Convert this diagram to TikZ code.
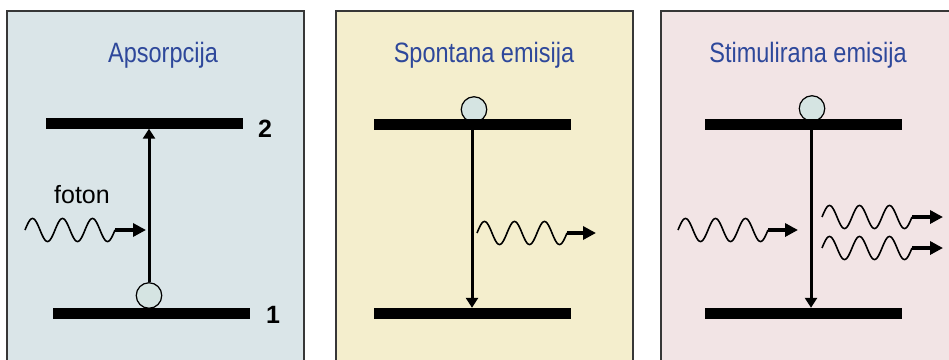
\documentclass[tikz,border=0pt]{standalone}
\usepackage{fontspec}
\setmainfont{Liberation Sans}
\usetikzlibrary{arrows.meta}
\definecolor{panelA}{RGB}{218,229,232}
\definecolor{panelB}{RGB}{244,238,205}
\definecolor{panelC}{RGB}{242,228,229}
\definecolor{titleblue}{RGB}{46,72,155}
\definecolor{atomfill}{RGB}{213,228,226}
\definecolor{framegray}{RGB}{55,55,55}
\begin{document}
\begin{tikzpicture}[x=1pt,y=-1pt,
  panel/.style={draw=framegray, line width=2pt},
  title/.style={font=\fontsize{28}{32}\selectfont, text=titleblue, xscale=0.84, anchor=base, inner sep=0pt},
  level/.style={fill=black, inner sep=0pt, minimum height=11pt, minimum width=197pt},
  atom/.style={circle, draw=black, line width=1.2pt, fill=atomfill, minimum size=25.5pt, inner sep=0pt},
  transition/.style={line width=3pt, -{Triangle[length=10pt,width=12pt]}},
  wave/.style={line width=1.6pt},
  photonhead/.style={line width=3.5pt, -{Triangle[length=13pt,width=13pt]}},
  numlabel/.style={font=\fontsize{25}{28}\selectfont\bfseries, inner sep=0pt},
  photonlabel/.style={font=\fontsize{25}{28}\selectfont, inner sep=0pt}
]
\useasboundingbox (0,0) rectangle (949,359);
\clip (0,0) rectangle (949,359);
\fill[white] (0,0) rectangle (949,359);

% panels
\draw[panel, fill=panelA] (7,11) rectangle (304,375);
\draw[panel, fill=panelB] (336,11) rectangle (633,375);
\draw[panel, fill=panelC] (661,11) rectangle (962,375);

% titles
\node[title] (t1) at (163,62) {Apsorpcija};
\node[title] (t2) at (484,62) {Spontana emisija};
\node[title] (t3) at (808,62) {Stimulirana emisija};

% ---------- Panel 1: absorption ----------
\node[atom] (a1) at (149,295.5) {};
\node[level] (u1) at (144,123) {};
\node[level] (l1) at (151.5,313.5) {};
\node[numlabel] (n2) at (265,128.5) {2};
\node[numlabel] (n1) at (273,314.5) {1};
\node[photonlabel] (fot) at (82,195) {foton};
\draw[transition] (a1.north) -- (a1.north |- u1.south);
\draw[wave] plot[domain=0:90,samples=121,smooth] ({25+\x},{230-11.5*sin(12*\x)});
\coordinate (p1e) at (115,230);
\coordinate (p1t) at (146,230);
\draw[photonhead] (p1e) -- (p1t);

% ---------- Panel 2: spontaneous emission ----------
\node[atom] (a2) at (474,109.5) {};
\node[level] (u2) at (472.5,124.5) {};
\node[level] (l2) at (472.5,313.5) {};
\coordinate (v2) at (472,130);
\draw[transition] (v2) -- (v2 |- l2.north);
\draw[wave] plot[domain=0:90,samples=121,smooth] ({477+\x},{233-11.5*sin(12*\x)});
\coordinate (p2e) at (567,233);
\coordinate (p2t) at (596,233);
\draw[photonhead] (p2e) -- (p2t);

% ---------- Panel 3: stimulated emission ----------
\node[atom] (a3) at (812,108.5) {};
\node[level] (u3) at (803.5,124.5) {};
\node[level] (l3) at (803.5,313.5) {};
\coordinate (v3) at (811,130);
\draw[transition] (v3) -- (v3 |- l3.north);
% incoming photon
\draw[wave] plot[domain=0:90,samples=121,smooth] ({678+\x},{230-11.5*sin(12*\x)});
\coordinate (p3e) at (768,230);
\coordinate (p3t) at (798,230);
\draw[photonhead] (p3e) -- (p3t);
% outgoing photons
\draw[wave] plot[domain=0:90,samples=121,smooth] ({822+\x},{217-11.5*sin(12*\x)});
\coordinate (p4e) at (912,217);
\coordinate (p4t) at (943,217);
\draw[photonhead] (p4e) -- (p4t);
\draw[wave] plot[domain=0:90,samples=121,smooth] ({822+\x},{248-11.5*sin(12*\x)});
\coordinate (p5e) at (912,248);
\coordinate (p5t) at (943,248);
\draw[photonhead] (p5e) -- (p5t);
\end{tikzpicture}
\end{document}
